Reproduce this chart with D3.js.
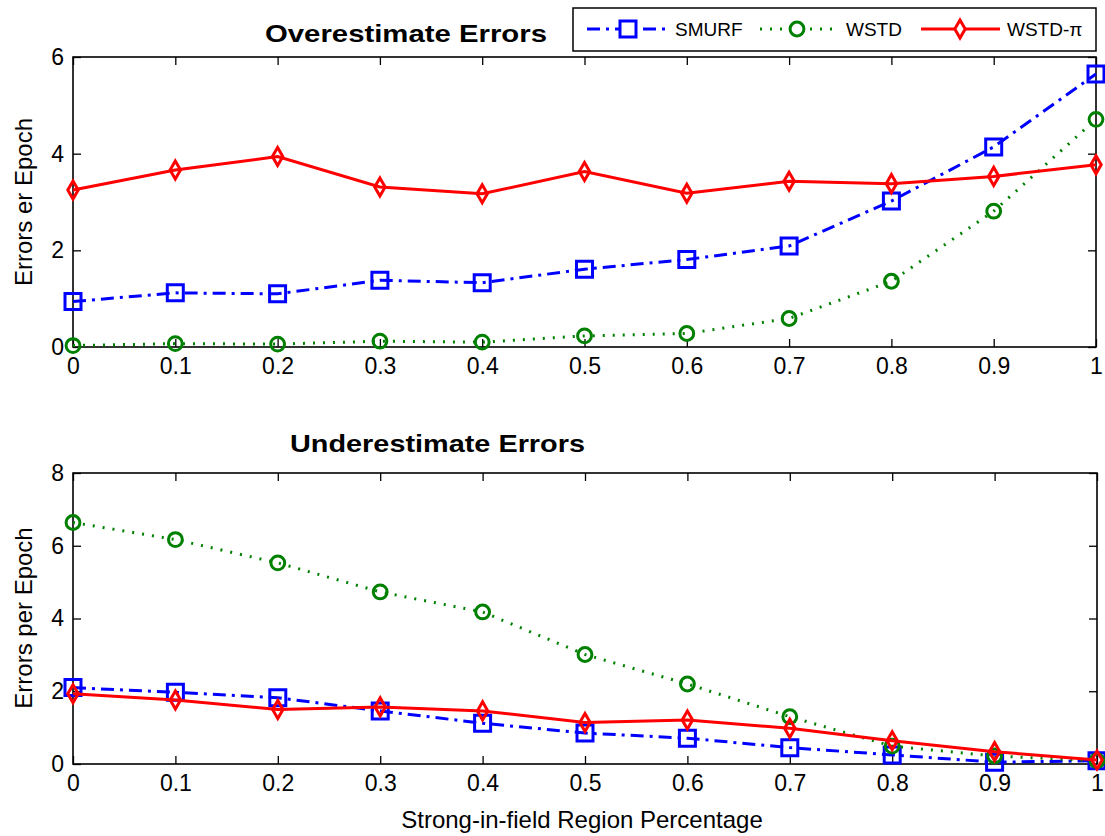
<!DOCTYPE html>
<html><head><meta charset="utf-8">
<script src="https://cdn.jsdelivr.net/npm/d3@7"></script>
<style>
body{margin:0;background:#fff}
svg{display:block}
text{font-family:"Liberation Sans",Arial,Helvetica,sans-serif;fill:#000}
</style>
</head><body>
<svg id="c" width="1105" height="836"></svg>
<script>
// ---------- data ----------
const xValues = [0, 0.1, 0.2, 0.3, 0.4, 0.5, 0.6, 0.7, 0.8, 0.9, 1];
const xTickLabels = ["0", "0.1", "0.2", "0.3", "0.4", "0.5", "0.6", "0.7", "0.8", "0.9", "1"];
const seriesNames = ["SMURF", "WSTD", "WSTD-\u03c0"];
const overYTicks = [0, 2, 4, 6];
const underYTicks = [0, 2, 4, 6, 8];

const overSMURF  = [0.94, 1.12, 1.10, 1.38, 1.33, 1.61, 1.81, 2.09, 3.02, 4.14, 5.65];
const overWSTD   = [0.03, 0.07, 0.06, 0.12, 0.10, 0.23, 0.28, 0.59, 1.36, 2.81, 4.71];
const overWSTDpi = [3.25, 3.66, 3.94, 3.31, 3.17, 3.63, 3.18, 3.43, 3.38, 3.53, 3.77];

const underSMURF  = [2.10, 1.97, 1.82, 1.46, 1.12, 0.85, 0.71, 0.45, 0.25, 0.05, 0.09];
const underWSTD   = [6.64, 6.17, 5.53, 4.73, 4.18, 3.01, 2.20, 1.30, 0.49, 0.22, 0.09];
const underWSTDpi = [1.93, 1.76, 1.50, 1.57, 1.46, 1.14, 1.21, 0.98, 0.64, 0.34, 0.11];

// ---------- styles ----------
const styles = [
  {color: "#0000ff", dash: "13,6,3,6", marker: "square"},
  {color: "#008000", dash: "2,8", marker: "circle"},
  {color: "#ff0000", dash: null, marker: "diamond"}
];

const svg = d3.select("#c");

function markerPath(type) {
  if (type === "square") return d3.symbol(d3.symbolSquare, 256)();
  if (type === "circle") return d3.symbol(d3.symbolCircle, 150)();
  return d3.symbol(d3.symbolDiamond, 94)();
}

function panel(cfg) {
  const g = svg.append("g");
  const x = d3.scaleLinear().domain([0, 1]).range([cfg.left, cfg.right]);
  const y = d3.scaleLinear().domain([0, cfg.ymax]).range([cfg.bottom, cfg.top]);

  const ax = g.append("g").attr("transform", `translate(0,${cfg.bottom})`)
    .call(d3.axisBottom(x).tickValues(xValues).tickFormat((d, i) => xTickLabels[i])
      .tickSizeInner(-8).tickSizeOuter(0).tickPadding(11));
  const axT = g.append("g").attr("transform", `translate(0,${cfg.top})`)
    .call(d3.axisTop(x).tickValues(xValues).tickFormat("").tickSizeInner(-8).tickSizeOuter(0));
  const ay = g.append("g").attr("transform", `translate(${cfg.left},0)`)
    .call(d3.axisLeft(y).tickValues(cfg.yticks).tickFormat(d3.format("d"))
      .tickSizeInner(-8).tickSizeOuter(0).tickPadding(9));
  const ayR = g.append("g").attr("transform", `translate(${cfg.right},0)`)
    .call(d3.axisRight(y).tickValues(cfg.yticks).tickFormat("").tickSizeInner(-8).tickSizeOuter(0));
  [ax, axT, ay, ayR].forEach(a => {
    a.select(".domain").remove();
    a.selectAll(".tick line").attr("stroke", "#000").attr("stroke-width", 1.3);
    a.selectAll("text").style("font-size", "23px").attr("fill", "#1a1a1a");
  });

  g.append("rect").attr("x", cfg.left).attr("y", cfg.top)
    .attr("width", cfg.right - cfg.left).attr("height", cfg.bottom - cfg.top)
    .attr("fill", "none").attr("stroke", "#000").attr("stroke-width", 1.6);

  const line = d3.line().x((d, i) => x(xValues[i])).y(d => y(d));
  cfg.series.forEach((vals, si) => {
    const st = styles[si];
    g.append("path").datum(vals).attr("d", line)
      .attr("fill", "none").attr("stroke", st.color).attr("stroke-width", 3)
      .attr("stroke-dasharray", st.dash);
    g.selectAll(null).data(vals).enter().append("path")
      .attr("d", markerPath(st.marker))
      .attr("transform", (d, i) => `translate(${x(xValues[i])},${y(d)})`)
      .attr("fill", "none").attr("stroke", st.color).attr("stroke-width", 3);
  });

  g.append("text").attr("x", cfg.titleX).attr("y", cfg.titleY)
    .style("font-size", "24px").style("font-weight", "bold")
    .attr("textLength", cfg.titleLen).attr("lengthAdjust", "spacingAndGlyphs")
    .text(cfg.title);
  g.append("text")
    .attr("transform", `translate(${cfg.ylabX},${cfg.ylabY}) rotate(-90)`)
    .attr("text-anchor", "middle").style("font-size", "24px").attr("fill", "#1a1a1a")
    .text(cfg.ylabel);
}

panel({
  left: 73, right: 1096, top: 57, bottom: 347, ymax: 6, yticks: overYTicks,
  series: [overSMURF, overWSTD, overWSTDpi],
  title: "Overestimate Errors", titleX: 265, titleY: 42, titleLen: 282,
  ylabel: "Errors er Epoch", ylabX: 32, ylabY: 202
});
panel({
  left: 73, right: 1097, top: 473, bottom: 764, ymax: 8, yticks: underYTicks,
  series: [underSMURF, underWSTD, underWSTDpi],
  title: "Underestimate Errors", titleX: 290, titleY: 452, titleLen: 295,
  ylabel: "Errors per Epoch", ylabX: 32, ylabY: 618
});

svg.append("text").attr("x", 582).attr("y", 828).attr("text-anchor", "middle")
  .style("font-size", "24px").attr("fill", "#1a1a1a")
  .text("Strong-in-field Region Percentage");

const lg = svg.append("g");
lg.append("rect").attr("x", 573).attr("y", 8).attr("width", 523).attr("height", 43)
  .attr("fill", "#fff").attr("stroke", "#000").attr("stroke-width", 1.5);
const legendItems = [
  {x1: 587, x2: 668, mx: 628, tx: 675},
  {x1: 760, x2: 837, mx: 797, tx: 846},
  {x1: 921, x2: 1000, mx: 960, tx: 1007}
];
legendItems.forEach((it, i) => {
  const st = styles[i];
  lg.append("line").attr("x1", it.x1).attr("x2", it.x2).attr("y1", 29).attr("y2", 29)
    .attr("stroke", st.color).attr("stroke-width", 3).attr("stroke-dasharray", st.dash);
  lg.append("path").attr("d", markerPath(st.marker))
    .attr("transform", `translate(${it.mx},29)`)
    .attr("fill", "#fff").attr("stroke", st.color).attr("stroke-width", 3);
  lg.append("text").attr("x", it.tx).attr("y", 36).style("font-size", "19px")
    .attr("fill", "#1a1a1a").text(seriesNames[i]);
});
</script>
</body></html>
